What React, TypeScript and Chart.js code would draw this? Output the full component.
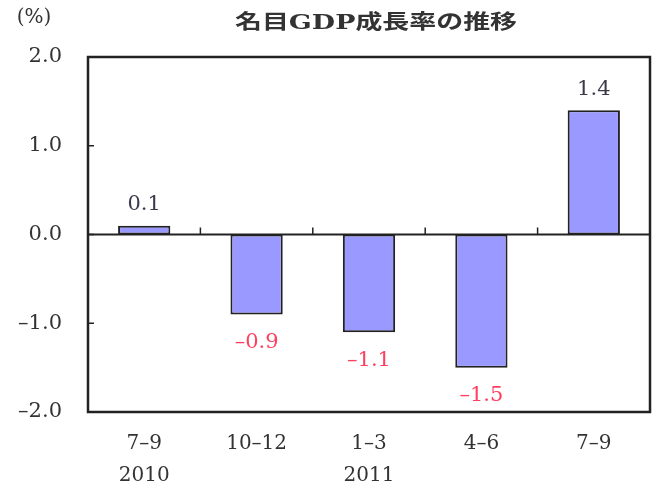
import { useEffect, useRef } from "react";
import { Chart, registerables } from "chart.js";
Chart.register(...registerables);

const categories: (string | string[])[] = [["7–9", "2010"], "10–12", ["1–3", "2011"], "4–6", "7–9"];
const growth = [0.1, -0.9, -1.1, -1.5, 1.4];
const yMin = -2;
const yMax = 2;
const yStep = 1;
const titleText = "名目GDP成長率の推移";
const unitText = "(%)";

const SERIF = "'DejaVu Serif', 'Noto Sans CJK JP', serif";

const fmt = (v: number) => (v < 0 ? "–" : "") + Math.abs(v).toFixed(1);

const decorPlugin = {
  id: "decor",
  afterDatasetsDraw(chart: any) {
    const { ctx, chartArea: a, scales } = chart;
    const x = scales.x;
    const y = scales.y;
    ctx.save();
    // frame
    ctx.strokeStyle = "#222";
    ctx.lineWidth = 2.5;
    ctx.strokeRect(a.left, a.top, a.right - a.left, a.bottom - a.top);
    // zero line
    const y0 = y.getPixelForValue(0);
    ctx.lineWidth = 2;
    ctx.beginPath();
    ctx.moveTo(a.left, y0);
    ctx.lineTo(a.right, y0);
    ctx.stroke();
    // y tick marks inside left border
    ctx.lineWidth = 1.5;
    for (let v = yMin; v <= yMax; v += yStep) {
      const py = y.getPixelForValue(v);
      ctx.beginPath();
      ctx.moveTo(a.left, py);
      ctx.lineTo(a.left + 6, py);
      ctx.stroke();
    }
    // x tick marks on zero line between categories
    for (let i = 1; i < categories.length; i++) {
      const px = (x.getPixelForValue(i - 1) + x.getPixelForValue(i)) / 2;
      ctx.beginPath();
      ctx.moveTo(px, y0);
      ctx.lineTo(px, y0 - 7);
      ctx.stroke();
    }
    // data labels
    const meta = chart.getDatasetMeta(0);
    ctx.font = `21px ${SERIF}`;
    ctx.textAlign = "center";
    ctx.textBaseline = "middle";
    meta.data.forEach((bar: any, i: number) => {
      const v = growth[i];
      if (v >= 0) {
        ctx.fillStyle = "#3a3a4a";
        ctx.fillText(fmt(v), bar.x, bar.y - 21);
      } else {
        ctx.fillStyle = "#ff4060";
        ctx.fillText(fmt(v), bar.x, bar.y + 28);
      }
    });
    // title (horizontally stretched like the reference)
    ctx.fillStyle = "#333";
    ctx.font = `bold 20px ${SERIF}`;
    const w = ctx.measureText(titleText).width;
    const sx = 282 / w;
    ctx.translate(376, 24);
    ctx.scale(sx, 1);
    ctx.fillText(titleText, 0, 0);
    ctx.setTransform(1, 0, 0, 1, 0, 0);
    ctx.font = `20px ${SERIF}`;
    ctx.fillText(unitText, 34, 18);
    ctx.restore();
  },
};

export default function App() {
  const ref = useRef<HTMLCanvasElement>(null);
  useEffect(() => {
    document.body.style.margin = "0";
    const chart = new Chart(ref.current!, {
      type: "bar",
      data: {
        labels: categories as any,
        datasets: [
          {
            data: growth,
            backgroundColor: "#9999ff",
            borderColor: "#222",
            borderWidth: 2,
            borderSkipped: false,
            barPercentage: 0.93,
            categoryPercentage: 0.5,
          },
        ],
      },
      options: {
        animation: false,
        responsive: false,
        maintainAspectRatio: false,
        layout: { padding: { left: 0, right: 6, top: 57, bottom: 0 } },
        plugins: { legend: { display: false }, tooltip: { enabled: false }, title: { display: false } },
        scales: {
          x: {
            grid: { display: false },
            border: { display: false },
            ticks: {
              color: "#333",
              font: { family: SERIF, size: 20, lineHeight: 1.6 },
              padding: 8,
              maxRotation: 0,
            },
            afterFit: (s: any) => {
              s.height = 78;
            },
          },
          y: {
            min: yMin,
            max: yMax,
            grid: { display: false },
            border: { display: false },
            ticks: {
              stepSize: yStep,
              color: "#333",
              font: { family: SERIF, size: 21 },
              padding: 18,
              callback: (v: any) => fmt(Number(v)),
            },
            afterFit: (s: any) => {
              s.width = 88;
            },
          },
        },
      },
      plugins: [decorPlugin],
    });
    return () => chart.destroy();
  }, []);
  return (
    <div style={{ position: "absolute", left: 0, top: 0, width: 656, height: 490, background: "#fff" }}>
      <canvas ref={ref} width={656} height={490} style={{ width: 656, height: 490 }} />
    </div>
  );
}
